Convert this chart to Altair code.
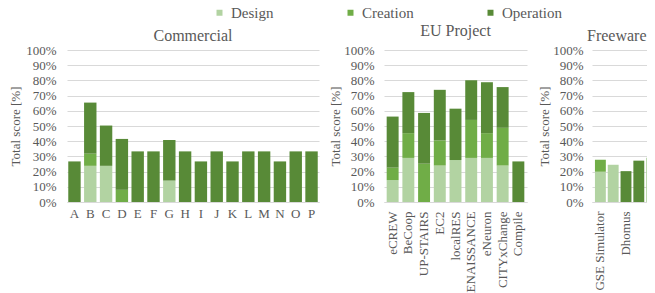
import altair as alt
import pandas as pd

# ---------------- data ----------------
stages = ["Design", "Creation", "Operation"]
stage_colors = ["#b2d3a2", "#70ad47", "#588a37"]

commercial_tools = ["A", "B", "C", "D", "E", "F", "G", "H", "I", "J", "K", "L", "M", "N", "O", "P"]
commercial_design = [0, 23.8, 23.8, 0, 0, 0, 14.1, 0, 0, 0, 0, 0, 0, 0, 0, 0]
commercial_creation = [0, 8.0, 0, 8.0, 0, 0, 0, 0, 0, 0, 0, 0, 0, 0, 0, 0]
commercial_operation = [26.7, 33.6, 26.5, 33.5, 33.3, 33.3, 26.7, 33.3, 26.7, 33.3, 26.7, 33.3, 33.3, 26.7, 33.3, 33.3]

eu_tools = ["eCREW", "BeCoop", "UP-STAIRS", "EC2", "localRES", "RENAISSANCE", "eNeuron", "CITYxChange", "Compile"]
eu_design = [14.4, 29.0, 0, 24.0, 27.6, 29.0, 29.0, 24.0, 0]
eu_creation = [8.2, 16.3, 25.2, 16.5, 0, 25.0, 16.3, 24.8, 0]
eu_operation = [33.6, 27.0, 33.4, 33.3, 33.8, 26.1, 33.5, 26.8, 26.7]

# the 2nd and 4th freeware labels are not shown in the reference
freeware_tools = ["GSE Simulator", " ", "Dhomus", "  ", "PI-SEC"]
freeware_design = [19.9, 24.5, 0, 0, 29.1]
freeware_creation = [7.9, 0, 0, 0, 0]
freeware_operation = [0, 0, 20.3, 27.2, 0]

y_ticks = [0, 10, 20, 30, 40, 50, 60, 70, 80, 90, 100]

FONT = "Liberation Serif"
GREY = "#595959"
GRID = "#d9d9d9"


def long_table(tools, design, creation, operation):
    rows = []
    for i, t in enumerate(tools):
        for k, (s, vals) in enumerate(zip(stages, [design, creation, operation])):
            if vals[i] > 0:
                rows.append({"tool": t, "stage": s, "k": k, "score": vals[i]})
    return pd.DataFrame(rows)


legend = alt.Legend(
    title=None, orient="none", legendX=145, legendY=-45, direction="horizontal",
    columnPadding=69, symbolType="square", symbolSize=36, symbolStrokeWidth=0,
    labelFont=FONT, labelFontSize=15, labelColor=GREY, labelOffset=4, padding=0,
)


def panel(df, tools, title, width, angle, pad_in, pad_out, t_offset, lab_pad, tit_pad,
          anchor="middle", t_dx=0):
    if angle == 0:
        x_axis = alt.Axis(title=None, labelAngle=0, ticks=False, grid=False,
                          domainColor=GRID, labelPadding=5)
    else:
        x_axis = alt.Axis(title=None, labelAngle=270, labelAlign="right", labelBaseline="middle",
                          ticks=False, grid=False, domainColor=GRID, labelPadding=9,
                          labelOverlap=False)
    return alt.Chart(df).mark_bar().encode(
        x=alt.X("tool:N", sort=tools,
                scale=alt.Scale(domain=tools, paddingInner=pad_in, paddingOuter=pad_out),
                axis=x_axis),
        y=alt.Y("score:Q", stack="zero",
                scale=alt.Scale(domain=[0, 100], nice=False),
                axis=alt.Axis(values=y_ticks, labelExpr="datum.value + '%'",
                              title="Total score [%]", domain=False, ticks=False, tickSize=0,
                              labelPadding=lab_pad, titlePadding=tit_pad, gridColor=GRID)),
        color=alt.Color("stage:N", scale=alt.Scale(domain=stages, range=stage_colors), legend=legend),
        order=alt.Order("k:Q"),
    ).properties(
        width=width, height=152,
        title=alt.TitleParams(title, offset=t_offset, anchor=anchor, frame="group", dx=t_dx),
    )


commercial = panel(long_table(commercial_tools, commercial_design, commercial_creation, commercial_operation),
                   commercial_tools, "Commercial", 252, 0, 0.215, 0.08, 0, 11, 3)
eu = panel(long_table(eu_tools, eu_design, eu_creation, eu_operation),
           eu_tools, "EU Project", 143, 270, 0.24, 0.17, 5, 10, 1)
freeware = panel(long_table(freeware_tools, freeware_design, freeware_creation, freeware_operation),
                 freeware_tools, "Freeware", 68, 270, 0.15, 0.23, 0, 9, 1, anchor="start", t_dx=-5)

chart = alt.hconcat(
    commercial, eu, freeware, spacing=65, bounds="flush",
).properties(
    autosize=alt.AutoSizeParams(type="none"),
    padding={"left": 59, "top": 42, "right": 580, "bottom": 243},
).configure_view(stroke=None).configure_axis(
    labelFont=FONT, titleFont=FONT, labelColor=GREY, titleColor=GREY,
    labelFontSize=13, titleFontSize=13, titleFontWeight="normal",
).configure_title(font=FONT, fontSize=16, color=GREY, fontWeight="normal")

chart.save("out.html", embed_options={"renderer": "svg", "actions": False})
